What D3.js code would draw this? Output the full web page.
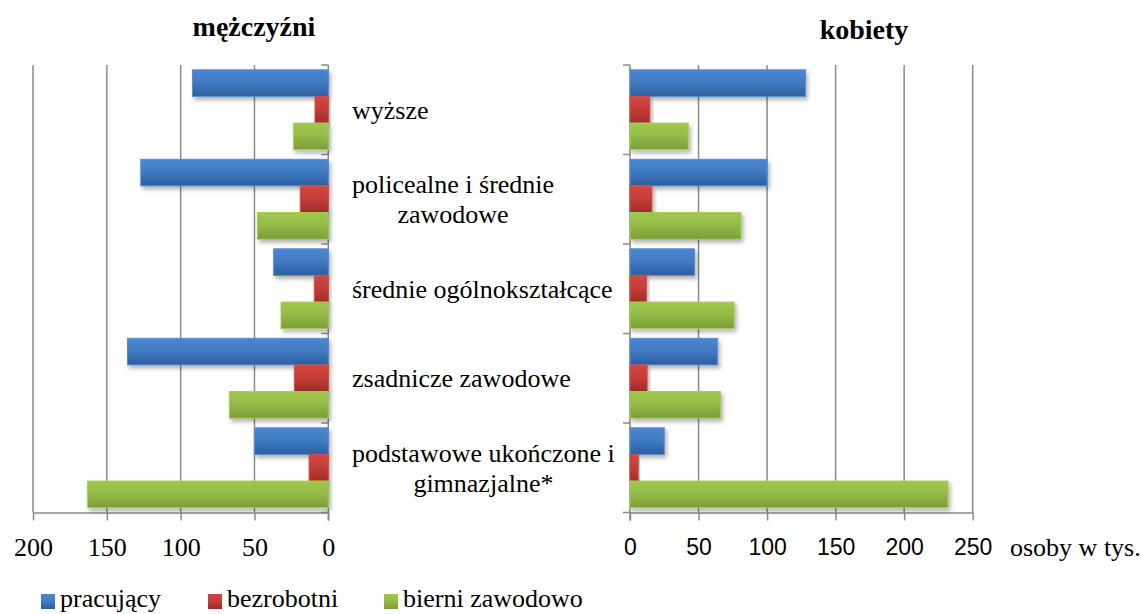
<!DOCTYPE html>
<html>
<head>
<meta charset="utf-8">
<script src="https://cdn.jsdelivr.net/npm/d3@7"></script>
<style>
  body { margin: 0; background: #fff; }
  svg { display: block; }
  .serif { font-family: "Times New Roman", "Liberation Serif", "DejaVu Serif", serif; }
</style>
</head>
<body>
<div id="chart"></div>
<script>
// Education level vs. labour market status, men (left) and women (right)

const categories = ["wyższe", "policealne i średnie zawodowe", "średnie ogólnokształcące", "zsadnicze zawodowe", "podstawowe ukończone i gimnazjalne*"];
const categoryLines = [["wyższe"], ["policealne i średnie", "zawodowe"], ["średnie ogólnokształcące"], ["zsadnicze zawodowe"], ["podstawowe ukończone i", "gimnazjalne*"]];
const series = ["pracujący", "bezrobotni", "bierni zawodowo"];

// men, thousands
const menWorking    = [92, 127, 37, 136, 50];
const menUnemployed = [9, 19, 9.5, 23, 13];
const menInactive   = [23.5, 48, 32, 67, 163];

// women, thousands
const womenWorking    = [128, 100, 47, 64, 25];
const womenUnemployed = [14.5, 16, 12, 12.5, 6];
const womenInactive   = [42.5, 81, 76, 66, 232];

const leftTicks = [0, 50, 100, 150, 200];
const rightTicks = [0, 50, 100, 150, 200, 250];

const width = 1142, height = 614;
const plotTop = 65, plotBottom = 512.5;

const svg = d3.select("#chart")
  .append("svg")
    .attr("width", width)
    .attr("height", height);

// gradients + shadow
const defs = svg.append("defs");
const colors = {
  "pracujący":       { top: "#4a88d2", bottom: "#2d5e9e", stroke: "#5a8fd3" },
  "bezrobotni":      { top: "#d4463f", bottom: "#a12b27", stroke: "#d0504b" },
  "bierni zawodowo": { top: "#a0c84d", bottom: "#7b9d39", stroke: "#a6cb5c" }
};
series.forEach((s, i) => {
  const g = defs.append("linearGradient")
    .attr("id", "grad" + i)
    .attr("x1", 0).attr("y1", 0).attr("x2", 0).attr("y2", 1);
  g.append("stop").attr("offset", "0%").attr("stop-color", colors[s].top);
  g.append("stop").attr("offset", "45%").attr("stop-color", d3.interpolateRgb(colors[s].top, colors[s].bottom)(0.3));
  g.append("stop").attr("offset", "100%").attr("stop-color", colors[s].bottom);
});
const f = defs.append("filter").attr("id", "shadow")
  .attr("x", "-10%").attr("y", "-20%").attr("width", "130%").attr("height", "160%");
f.append("feDropShadow")
  .attr("dx", 2).attr("dy", 3).attr("stdDeviation", 2)
  .attr("flood-color", "#000").attr("flood-opacity", 0.3);

// scales
const y = d3.scaleBand()
  .domain(categories)
  .range([plotTop, plotBottom])
  .padding(0);

const ySub = d3.scaleBand()
  .domain(series)
  .range([0, y.bandwidth()])
  .paddingInner(0)
  .paddingOuter(0.18);

const xL = d3.scaleLinear().domain([0, 200]).range([328.3, 33]);
const xR = d3.scaleLinear().domain([0, 250]).range([630, 972.7]);

const gridColor = "#8a8a8a";

// gridlines
svg.append("g")
  .selectAll("line")
  .data(leftTicks.filter(d => d > 0))
  .enter()
  .append("line")
    .attr("x1", d => xL(d)).attr("x2", d => xL(d))
    .attr("y1", plotTop).attr("y2", plotBottom)
    .attr("stroke", gridColor).attr("stroke-width", 1.5);

svg.append("g")
  .selectAll("line")
  .data(rightTicks.filter(d => d > 0))
  .enter()
  .append("line")
    .attr("x1", d => xR(d)).attr("x2", d => xR(d))
    .attr("y1", plotTop).attr("y2", plotBottom)
    .attr("stroke", gridColor).attr("stroke-width", 1.5);

// bottom axes
const axL = svg.append("g")
  .attr("transform", `translate(0,${plotBottom})`)
  .call(d3.axisBottom(xL).tickValues(leftTicks).tickSize(8).tickPadding(17).tickSizeOuter(0));
axL.attr("font-family", null).attr("font-size", null);
axL.selectAll("text")
  .attr("class", "serif")
  .style("font-size", "26px")
  .attr("fill", "#000");

const axR = svg.append("g")
  .attr("transform", `translate(0,${plotBottom})`)
  .call(d3.axisBottom(xR).tickValues(rightTicks).tickSize(8).tickPadding(18).tickSizeOuter(0));
axR.selectAll("text")
  .style("font-family", "'Liberation Sans', Arial, sans-serif")
  .style("font-size", "23px")
  .attr("fill", "#000");

[axL, axR].forEach(ax => {
  ax.select(".domain").attr("stroke", gridColor).attr("stroke-width", 1.5);
  ax.selectAll(".tick line").attr("stroke", gridColor).attr("stroke-width", 1.5);
});

// vertical category axes with ticks at band boundaries
const bounds = categories.map(c => y(c)).concat([y.range()[1]]);
[xL(0), xR(0)].forEach(x0 => {
  const g = svg.append("g");
  g.append("line")
    .attr("x1", x0).attr("x2", x0)
    .attr("y1", plotTop).attr("y2", plotBottom + 8)
    .attr("stroke", gridColor).attr("stroke-width", 1.5);
  g.selectAll(".bt")
    .data(bounds)
    .enter()
    .append("line")
      .attr("x1", x0 - 7).attr("x2", x0)
      .attr("y1", d => d).attr("y2", d => d)
      .attr("stroke", gridColor).attr("stroke-width", 1.5);
});

// bars
const menData = [menWorking, menUnemployed, menInactive];
const womenData = [womenWorking, womenUnemployed, womenInactive];

function rows(data) {
  const out = [];
  categories.forEach((c, ci) => {
    series.forEach((s, si) => {
      out.push({ cat: c, series: s, si: si, value: data[si][ci] });
    });
  });
  return out;
}

svg.append("g")
  .selectAll("rect")
  .data(rows(menData))
  .enter()
  .append("rect")
    .attr("x", d => xL(d.value))
    .attr("y", d => y(d.cat) + ySub(d.series))
    .attr("width", d => xL(0) - xL(d.value))
    .attr("height", ySub.bandwidth())
    .attr("fill", d => `url(#grad${d.si})`)
    .attr("stroke", d => colors[d.series].stroke)
    .attr("stroke-width", 1)
    .attr("filter", "url(#shadow)");

svg.append("g")
  .selectAll("rect")
  .data(rows(womenData))
  .enter()
  .append("rect")
    .attr("x", xR(0))
    .attr("y", d => y(d.cat) + ySub(d.series))
    .attr("width", d => xR(d.value) - xR(0))
    .attr("height", ySub.bandwidth())
    .attr("fill", d => `url(#grad${d.si})`)
    .attr("stroke", d => colors[d.series].stroke)
    .attr("stroke-width", 1)
    .attr("filter", "url(#shadow)");

// category labels (block left-aligned at 352, lines centred inside the block)
const labelX = 352, lineH = 30;
categories.forEach((c, ci) => {
  const lines = categoryLines[ci];
  const g = svg.append("g");
  const texts = lines.map((ln, li) => g.append("text")
    .attr("class", "serif")
    .attr("y", y(c) + y.bandwidth() / 2 + 9 + (li - (lines.length - 1) / 2) * lineH)
    .attr("text-anchor", "middle")
    .style("font-size", "26px")
    .attr("fill", "#000")
    .text(ln));
  const maxW = d3.max(texts, t => t.node().getComputedTextLength());
  texts.forEach(t => t.attr("x", labelX + maxW / 2));
});

// titles
svg.append("text")
  .attr("class", "serif")
  .attr("x", 254).attr("y", 36)
  .attr("text-anchor", "middle")
  .style("font-size", "28px")
  .style("font-weight", "bold")
  .text("mężczyźni");

svg.append("text")
  .attr("class", "serif")
  .attr("x", 864).attr("y", 39)
  .attr("text-anchor", "middle")
  .style("font-size", "28px")
  .style("font-weight", "bold")
  .text("kobiety");

// unit label
svg.append("text")
  .attr("class", "serif")
  .attr("x", 1010).attr("y", 556)
  .style("font-size", "26px")
  .text("osoby w tys.");

// legend
const legendX = [41, 208, 384];
const legend = svg.append("g");
series.forEach((s, i) => {
  legend.append("rect")
    .attr("x", legendX[i]).attr("y", 594)
    .attr("width", 14).attr("height", 15)
    .attr("fill", `url(#grad${i})`);
  legend.append("text")
    .attr("class", "serif")
    .attr("x", legendX[i] + 19).attr("y", 607)
    .style("font-size", "26px")
    .text(s);
});
</script>
</body>
</html>
